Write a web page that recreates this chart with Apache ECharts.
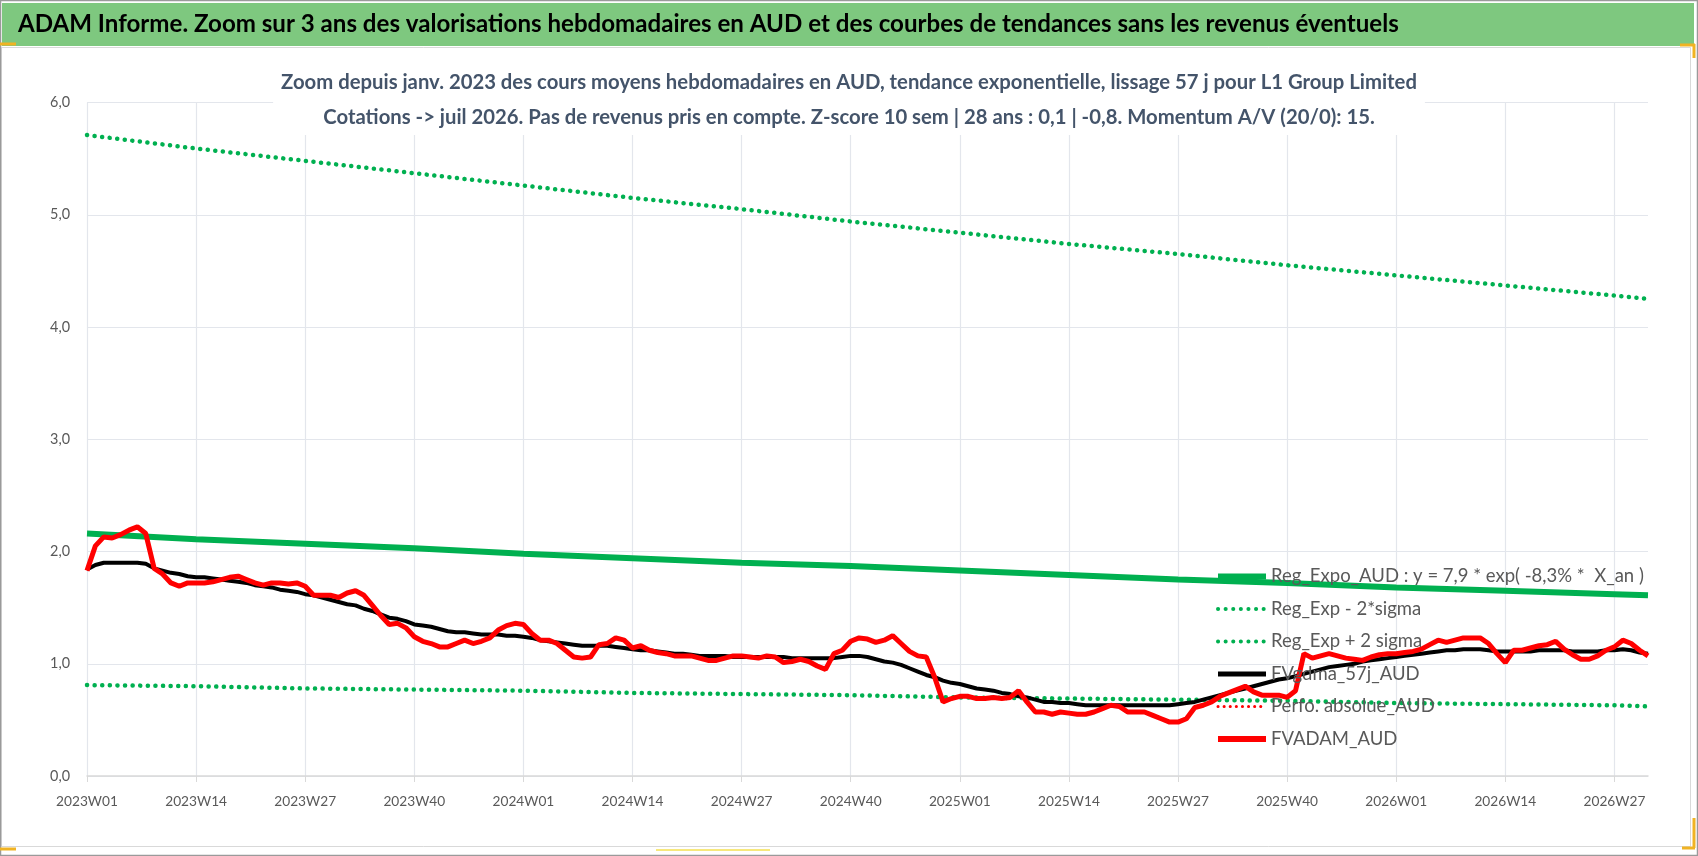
<!DOCTYPE html>
<html>
<head>
<meta charset="utf-8">
<title>ADAM Informe - L1 Group Limited</title>
<script src="https://cdn.jsdelivr.net/npm/echarts@6/dist/echarts.min.js"></script>
<style>
  html, body { margin: 0; padding: 0; background: #fff; }
  #chart { width: 1698px; height: 856px; }
</style>
</head>
<body>
<div id="chart"></div>
<script>
// categories : semaines 2023W01 -> 2026W31
var weeks = [];
for (var yr = 2023; yr <= 2026; yr++) {
    var last = yr < 2026 ? 52 : 31;
    for (var w = 1; w <= last; w++) {
        weeks.push(yr + 'W' + (w < 10 ? '0' + w : w));
    }
}

// FVADAM_AUD (rouge), une valeur par semaine
var fvAdam = [
    1.83, 2.05, 2.13, 2.12, 2.15, 2.19, 2.22, 2.16, 1.85, 1.80, 1.72, 1.69, 1.72,
    1.72, 1.72, 1.73, 1.75, 1.77, 1.78, 1.75, 1.72, 1.70, 1.72, 1.72, 1.71, 1.72,
    1.69, 1.61, 1.61, 1.61, 1.59, 1.63, 1.65, 1.61, 1.52, 1.43, 1.35, 1.36, 1.32,
    1.24, 1.20, 1.18, 1.15, 1.15, 1.18, 1.21, 1.18, 1.20, 1.23, 1.30, 1.34, 1.36,
    1.35, 1.27, 1.21, 1.21, 1.18, 1.12, 1.06, 1.05, 1.06, 1.17, 1.18, 1.23, 1.21,
    1.14, 1.16, 1.12, 1.10, 1.09, 1.07, 1.07, 1.07, 1.05, 1.03, 1.03, 1.05, 1.07,
    1.07, 1.06, 1.05, 1.07, 1.06, 1.01, 1.02, 1.04, 1.02, 0.98, 0.95, 1.09, 1.12,
    1.20, 1.23, 1.22, 1.19, 1.21, 1.25, 1.18, 1.11, 1.07, 1.06, 0.88, 0.66, 0.69,
    0.71, 0.71, 0.69, 0.69, 0.70, 0.69, 0.70, 0.76, 0.66, 0.57, 0.57, 0.55, 0.57,
    0.56, 0.55, 0.55, 0.57, 0.60, 0.63, 0.62, 0.57, 0.57, 0.57, 0.54, 0.51, 0.48,
    0.48, 0.51, 0.61, 0.63, 0.66, 0.71, 0.74, 0.77, 0.80, 0.75, 0.72, 0.72, 0.72,
    0.70, 0.76, 1.09, 1.05, 1.07, 1.09, 1.07, 1.05, 1.04, 1.03, 1.06, 1.08, 1.09,
    1.09, 1.10, 1.11, 1.13, 1.17, 1.21, 1.19, 1.21, 1.23, 1.23, 1.23, 1.18, 1.09,
    1.01, 1.12, 1.12, 1.14, 1.16, 1.17, 1.20, 1.13, 1.08, 1.04, 1.04, 1.07, 1.12,
    1.15, 1.21, 1.18, 1.12, 1.07
];

// FVgdma_57j_AUD (noir)
var fvGdma = [
    1.84, 1.88, 1.90, 1.90, 1.90, 1.90, 1.90, 1.89, 1.85, 1.83, 1.81, 1.80, 1.78,
    1.77, 1.77, 1.76, 1.75, 1.74, 1.73, 1.72, 1.70, 1.69, 1.68, 1.66, 1.65, 1.64,
    1.62, 1.61, 1.59, 1.57, 1.55, 1.53, 1.52, 1.49, 1.47, 1.44, 1.41, 1.40, 1.38,
    1.35, 1.34, 1.33, 1.31, 1.29, 1.28, 1.28, 1.27, 1.26, 1.26, 1.26, 1.25, 1.25,
    1.24, 1.23, 1.21, 1.20, 1.19, 1.18, 1.17, 1.16, 1.16, 1.16, 1.16, 1.15, 1.14,
    1.13, 1.12, 1.12, 1.11, 1.10, 1.09, 1.09, 1.08, 1.07, 1.07, 1.07, 1.07, 1.06,
    1.06, 1.06, 1.06, 1.06, 1.06, 1.06, 1.05, 1.05, 1.05, 1.05, 1.05, 1.05, 1.06,
    1.07, 1.07, 1.06, 1.04, 1.02, 1.01, 0.99, 0.96, 0.93, 0.90, 0.88, 0.85, 0.83,
    0.82, 0.80, 0.78, 0.77, 0.76, 0.74, 0.73, 0.71, 0.70, 0.68, 0.66, 0.66, 0.65,
    0.65, 0.64, 0.63, 0.63, 0.63, 0.63, 0.63, 0.63, 0.63, 0.63, 0.63, 0.63, 0.63,
    0.64, 0.65, 0.66, 0.68, 0.70, 0.72, 0.74, 0.76, 0.78, 0.80, 0.82, 0.84, 0.86,
    0.87, 0.89, 0.91, 0.93, 0.95, 0.97, 0.98, 0.99, 1.00, 1.02, 1.03, 1.04, 1.05,
    1.06, 1.07, 1.08, 1.09, 1.10, 1.11, 1.12, 1.12, 1.13, 1.13, 1.13, 1.12, 1.11,
    1.11, 1.11, 1.11, 1.11, 1.12, 1.12, 1.12, 1.12, 1.11, 1.11, 1.11, 1.11, 1.12,
    1.12, 1.13, 1.12, 1.10, 1.09
];

// courbes de tendance, lues aux graduations
var trendWeeks = ['2023W01', '2023W14', '2023W27', '2023W40', '2024W01', '2024W14', '2024W27', '2024W40',
                  '2025W01', '2025W14', '2025W27', '2025W40', '2026W01', '2026W14', '2026W27', '2026W31'];
var regExpo  = [2.16, 2.11, 2.07, 2.03, 1.98, 1.94, 1.90, 1.87, 1.83, 1.79, 1.75, 1.72, 1.68, 1.65, 1.62, 1.61];
var regMinus = [0.81, 0.80, 0.78, 0.77, 0.76, 0.74, 0.73, 0.72, 0.70, 0.69, 0.68, 0.67, 0.65, 0.64, 0.63, 0.62];
var regPlus  = [5.71, 5.59, 5.48, 5.37, 5.26, 5.15, 5.05, 4.94, 4.84, 4.74, 4.65, 4.55, 4.46, 4.37, 4.28, 4.25];

var seriesNames = [
    'Reg_Expo_AUD : y = 7,9 * exp( -8,3% *  X_an )',
    'Reg_Exp - 2*sigma',
    'Reg_Exp + 2 sigma',
    'FVgdma_57j_AUD',
    'Perfo. absolue_AUD',
    'FVADAM_AUD'
];

var titleText = 'ADAM Informe. Zoom sur 3 ans des valorisations hebdomadaires en AUD et des courbes de tendances sans les revenus éventuels';
var subLine1 = 'Zoom depuis janv. 2023 des cours moyens hebdomadaires en AUD, tendance exponentielle, lissage 57 j pour L1 Group Limited';
var subLine2 = 'Cotations -> juil 2026. Pas de revenus pris en compte. Z-score 10 sem | 28 ans : 0,1 | -0,8. Momentum A/V (20/0): 15.';

var FONT = 'Lato, "Open Sans", sans-serif';
var ctx = document.createElement('canvas').getContext('2d');
// taille de police pour qu'un texte occupe une largeur donnee
function fitSize(text, weight, width) {
    ctx.font = weight + ' 100px ' + FONT;
    return Math.round(1000 * width / ctx.measureText(text).width) / 10;
}
var titleSize = fitSize(titleText, 'bold', 1380);
var subSize = fitSize(subLine1, 'bold', 1138);
var legendSize = fitSize(seriesNames[0], 'normal', 372);
var xSize = fitSize('2023W01', 'normal', 62);
var ySize = fitSize('3,0', 'normal', 20);

function trend(values) {
    return trendWeeks.map(function (wk, k) { return [wk, values[k]]; });
}
var dots = { type: [0.1, 7.5], cap: 'round' };

var myChart = echarts.init(document.getElementById('chart'));
var option = {
    animation: false,
    backgroundColor: '#fff',
    graphic: {
        elements: [
            { type: 'rect', z: -10, shape: { x: 2, y: 3, width: 1692, height: 43 }, style: { fill: '#7EC87F' } },
            { type: 'rect', z: -10, shape: { x: 1.5, y: 47.5, width: 1689, height: 799 }, style: { fill: null, stroke: '#D9D9D9', lineWidth: 1 } },
            { type: 'rect', z: -10, shape: { x: 0.5, y: 0.5, width: 1697, height: 855 }, style: { fill: null, stroke: '#9A9A9A', lineWidth: 1.5 } },
            { type: 'line', shape: { x1: 0, y1: 44, x2: 16, y2: 44 }, style: { stroke: '#F0B323', lineWidth: 3 } },
            { type: 'line', shape: { x1: 1680, y1: 45, x2: 1695, y2: 45 }, style: { stroke: '#F0B323', lineWidth: 3 } },
            { type: 'line', shape: { x1: 1694, y1: 44, x2: 1694, y2: 58 }, style: { stroke: '#F0B323', lineWidth: 3 } },
            { type: 'line', shape: { x1: 0, y1: 849, x2: 16, y2: 849 }, style: { stroke: '#F0B323', lineWidth: 3 } },
            { type: 'line', shape: { x1: 656, y1: 850, x2: 770, y2: 850 }, style: { stroke: '#F5E050', lineWidth: 1.5 } },
            { type: 'line', shape: { x1: 1694, y1: 818, x2: 1694, y2: 848 }, style: { stroke: '#F0B323', lineWidth: 3 } },
            { type: 'line', shape: { x1: 1682, y1: 848, x2: 1695, y2: 848 }, style: { stroke: '#F0B323', lineWidth: 3 } }
        ]
    },
    title: [
        {
            text: titleText,
            left: 18, top: 24.5 - titleSize * 0.6, padding: 0,
            textStyle: { fontFamily: FONT, fontWeight: 'bold', fontSize: titleSize, lineHeight: titleSize * 1.2, color: '#000' }
        },
        {
            text: subLine1 + '\n' + subLine2,
            left: 'center', top: 65, padding: [0, 8, 0, 8],
            backgroundColor: '#fff',
            textStyle: { fontFamily: FONT, fontWeight: 'bold', fontSize: subSize, lineHeight: 35, color: '#44546A', align: 'center' }
        }
    ],
    legend: {
        orient: 'vertical',
        left: 1210, top: 562,
        itemWidth: 48, itemHeight: 20, itemGap: 13.5,
        itemStyle: { opacity: 0 },
        textStyle: { fontFamily: FONT, fontSize: legendSize, color: '#595959' },
        data: [
            { name: seriesNames[0], lineStyle: { width: 6 } },
            { name: seriesNames[1], lineStyle: { width: 4 } },
            { name: seriesNames[2], lineStyle: { width: 4 } },
            { name: seriesNames[3], lineStyle: { width: 5 } },
            { name: seriesNames[4], lineStyle: { width: 3 } },
            { name: seriesNames[5], lineStyle: { width: 6 } }
        ]
    },
    grid: { left: 87, right: 50, top: 102.5, bottom: 80, containLabel: false },
    xAxis: {
        type: 'category',
        data: weeks,
        boundaryGap: false,
        axisLine: { lineStyle: { color: '#D9D9D9', width: 1.5 } },
        axisTick: { show: true, interval: 12, length: 6, lineStyle: { color: '#D9D9D9' } },
        axisLabel: { interval: 12, color: '#595959', fontFamily: FONT, fontSize: xSize, margin: 19 },
        splitLine: { show: true, interval: 12, lineStyle: { color: '#E3E6EC', width: 1.2 } }
    },
    yAxis: {
        type: 'value',
        min: 0, max: 6, interval: 1,
        axisLine: { show: false },
        axisTick: { show: false },
        axisLabel: {
            color: '#595959', fontFamily: FONT, fontSize: ySize, margin: 17,
            formatter: function (v) { return v.toFixed(1).replace('.', ','); }
        },
        splitLine: { lineStyle: { color: '#E3E6EC', width: 1.2 } }
    },
    series: [
        {
            name: seriesNames[0], type: 'line', symbol: 'none',
            data: trend(regExpo),
            lineStyle: { color: '#00B050', width: 6 }, itemStyle: { color: '#00B050' }
        },
        {
            name: seriesNames[1], type: 'line', symbol: 'none',
            data: trend(regMinus),
            lineStyle: Object.assign({ color: '#00B050', width: 4.5 }, dots), itemStyle: { color: '#00B050' }
        },
        {
            name: seriesNames[2], type: 'line', symbol: 'none',
            data: trend(regPlus),
            lineStyle: Object.assign({ color: '#00B050', width: 4.5 }, dots), itemStyle: { color: '#00B050' }
        },
        {
            name: seriesNames[3], type: 'line', symbol: 'none',
            data: fvGdma,
            lineStyle: { color: '#000000', width: 4 }, itemStyle: { color: '#000000' }
        },
        {
            name: seriesNames[4], type: 'line', symbol: 'none',
            data: [],
            lineStyle: { color: '#FF0000', width: 3, type: [0.1, 6], cap: 'round' }, itemStyle: { color: '#FF0000' }
        },
        {
            name: seriesNames[5], type: 'line', symbol: 'none',
            data: fvAdam,
            lineStyle: { color: '#FF0000', width: 5 }, itemStyle: { color: '#FF0000' }
        }
    ]
};
myChart.setOption(option);
</script>
</body>
</html>
